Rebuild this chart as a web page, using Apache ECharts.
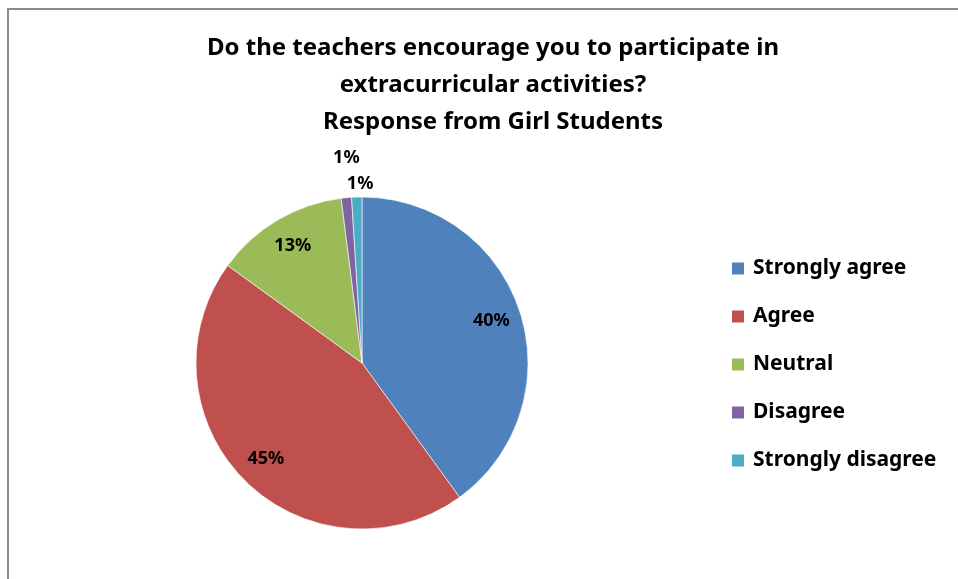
<!DOCTYPE html>
<html>
<head>
<meta charset="utf-8">
<script src="https://cdn.jsdelivr.net/npm/echarts@6/dist/echarts.min.js"></script>
<style>
  html, body { margin: 0; padding: 0; background: #fff; }
  .frame {
    position: absolute;
    left: 7px;
    top: 8px;
    width: 960px;
    height: 580px;
    border-top: 2px solid #8a8a8a;
    border-left: 2px solid #8a8a8a;
  }
  #chart { position: absolute; left: 0; top: 0; width: 958px; height: 579px; }
</style>
</head>
<body>
<div class="frame"></div>
<div id="chart"></div>
<script>
  // data
  var categories = ['Strongly agree', 'Agree', 'Neutral', 'Disagree', 'Strongly disagree']
  var values = [40, 45, 13, 1, 1]
  var colors = ['#4F81BD', '#C0504D', '#9BBB59', '#8064A2', '#4BACC6']
  var titleLines = [
    'Do the teachers encourage you to participate in',
    'extracurricular activities?',
    'Response from Girl Students'
  ]

  var font = '"Noto Sans", "Open Sans", sans-serif'
  var chart = echarts.init(document.getElementById('chart'))

  // small slices get their label outside the pie
  var outside = values.map(function (v) { return v < 5 })

  var pieData = categories.map(function (name, i) {
    return { name: name, value: values[i] }
  })

  // a transparent ring on top of the pie carries the inner labels,
  // so that they sit at about 80% of the radius like in the original
  var ringData = categories.map(function (name, i) {
    return {
      name: name,
      value: values[i],
      label: { show: !outside[i] }
    }
  })

  var outerData = categories.map(function (name, i) {
    return {
      name: name,
      value: values[i],
      label: { show: outside[i] },
      labelLine: { length: i === 3 ? 40 : 13 }
    }
  })

  var option = {
    color: colors,
    animation: false,
    title: {
      text: titleLines.join('\n'),
      left: 488,
      top: 25,
      textAlign: 'center',
      textStyle: {
        fontFamily: font,
        fontSize: 24,
        fontWeight: 'bold',
        color: '#000',
        lineHeight: 37
      }
    },
    legend: {
      orient: 'vertical',
      left: 725,
      top: 253,
      itemWidth: 14,
      itemHeight: 14,
      itemGap: 27,
      icon: 'rect',
      data: categories,
      textStyle: {
        fontFamily: font,
        fontSize: 21,
        fontWeight: 'bold',
        color: '#000',
        padding: [0, 0, 0, 3]
      }
    },
    series: [
      {
        type: 'pie',
        center: [362, 363],
        radius: [0, 166],
        startAngle: 90,
        clockwise: true,
        data: pieData,
        label: { show: false },
        labelLine: { show: false },
        itemStyle: { borderColor: '#fff', borderWidth: 0.6 },
        emphasis: { disabled: true }
      },
      {
        type: 'pie',
        center: [362, 363],
        radius: [100, 166],
        startAngle: 90,
        clockwise: true,
        silent: true,
        data: ringData,
        itemStyle: { color: 'rgba(0,0,0,0)' },
        label: {
          position: 'inside',
          formatter: '{c}%',
          fontFamily: font,
          fontSize: 18,
          fontWeight: 'bold',
          color: '#000'
        },
        labelLine: { show: false },
        legendHoverLink: false
      },
      {
        type: 'pie',
        center: [362, 363],
        radius: [0, 166],
        startAngle: 90,
        clockwise: true,
        silent: true,
        data: outerData,
        itemStyle: { color: 'rgba(0,0,0,0)' },
        label: {
          position: 'outside',
          formatter: '{c}%',
          fontFamily: font,
          fontSize: 18,
          fontWeight: 'bold',
          color: '#000',
          distanceToLabelLine: -17
        },
        labelLine: { show: false, length2: 0 },
        avoidLabelOverlap: true
      }
    ]
  }

  chart.setOption(option)
</script>
</body>
</html>
